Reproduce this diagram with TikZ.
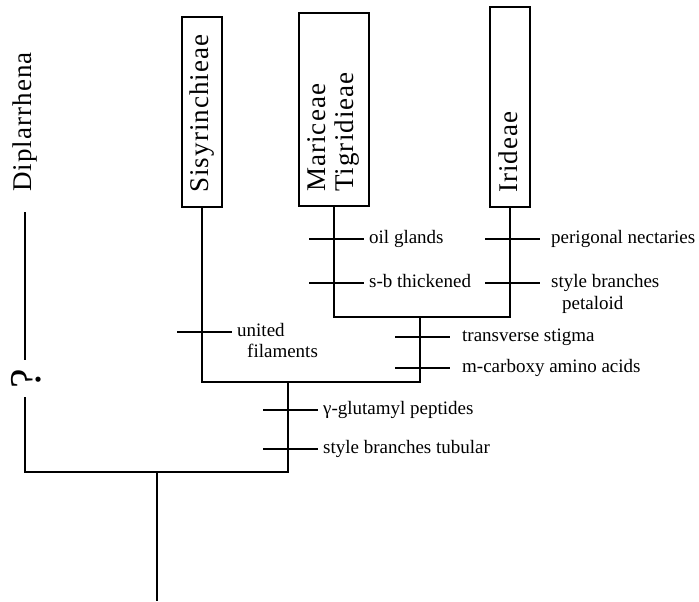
\documentclass[tikz,border=0pt]{standalone}
\usepackage{fontspec}
\setmainfont{Liberation Serif}
\newfontfamily\taxfont[LetterSpace=4]{Liberation Serif}
\begin{document}
\begin{tikzpicture}[x=1pt,y=-1pt,
  ln/.style={line width=1.3pt},
  lab/.style={font=\fontsize{19}{22}\selectfont, anchor=base west, inner sep=0pt},
  taxbox/.style={draw, line width=1.3pt, inner sep=0pt},
  taxlab/.style={font=\taxfont\fontsize{27}{30}\selectfont, rotate=90, anchor=base west, inner sep=0pt},
  qlab/.style={font=\fontsize{44}{44}\selectfont, rotate=90, inner sep=0pt}]
\useasboundingbox (0,0) rectangle (699,602);
% boxes
\node[taxbox, minimum width=40pt, minimum height=190pt] (sisbox) at (202,112) {};
\node[taxbox, minimum width=70pt, minimum height=193pt] (marbox) at (334,109.5) {};
\node[taxbox, minimum width=40pt, minimum height=200pt] (iribox) at (510,107) {};
% box labels
\node[taxlab] (sislab) at (208,193) {Sisyrinchieae};
\node[taxlab] (marlab) at (325,192) {Mariceae};
\node[taxlab] (tiglab) at (353,192) {Tigridieae};
\node[taxlab] (irilab) at (517,193) {Irideae};
\node[taxlab] (diplab) at (31,192) {Diplarrhena};
\node[qlab] (q) at (26,379) {?};
% junctions
\coordinate (j1) at (420,317);
\coordinate (j2) at (288,382);
\coordinate (dtop) at (25,212);
\coordinate (dbot) at (25,360);
\coordinate (qlow) at (25,397);
\coordinate (c1) at (25,472);
\coordinate (c2) at (288,472);
\coordinate (rootjoin) at (157,472);
\coordinate (rootend) at (157,601);
% tree
\draw[ln] (marbox.south) |- (j1) -| (iribox.south);
\draw[ln] (sisbox.south) |- (j2) -| (j1);
\draw[ln] (dtop) -- (dbot);
\draw[ln] (qlow) -- (c1) -- (c2) -- (j2);
\draw[ln] (rootjoin) -- (rootend);
% ticks
\foreach \sx/\sy in {334/239, 334/283, 510/239, 510/283, 420/337, 420/368, 288/410, 288/449, 202/332}
  \draw[ln] (\sx-25,\sy) -- (\sx+30,\sy);
% labels
\node[lab] (l1) at (369,243.4) {oil glands};
\node[lab] (l2) at (369,287.4) {s-b thickened};
\node[lab] (l3) at (551,243.4) {perigonal nectaries};
\node[lab] (l4) at (551,287.4) {style branches};
\node[lab] (l4b) at (562,309) {petaloid};
\node[lab] (l5) at (462,341.4) {transverse stigma};
\node[lab] (l6) at (462,372.4) {m-carboxy amino acids};
\node[lab] (l7) at (323,414.4) {γ-glutamyl peptides};
\node[lab] (l8) at (323,453.4) {style branches tubular};
\node[lab] (l9) at (237,336.4) {united};
\node[lab] (l9b) at (247,357) {filaments};
\end{tikzpicture}
\end{document}
